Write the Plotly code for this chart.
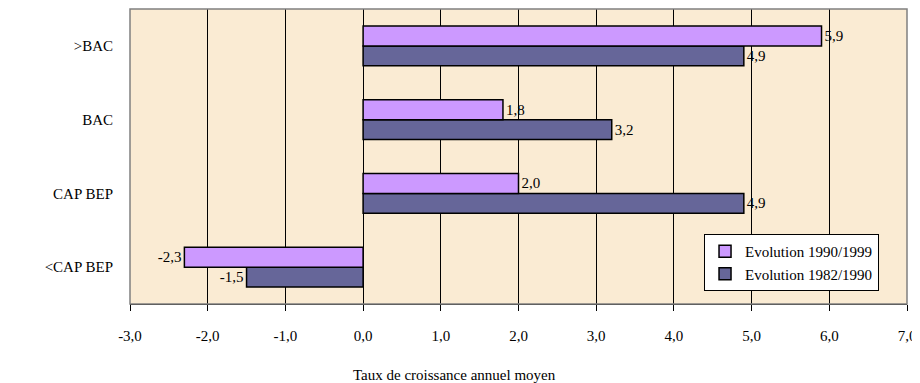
import plotly.graph_objects as go

# Données
categories = ["<CAP BEP", "CAP BEP", "BAC", ">BAC"]
evol_1982_1990 = [-1.5, 4.9, 3.2, 4.9]
evol_1990_1999 = [-2.3, 2.0, 1.8, 5.9]
x_ticks = [-3, -2, -1, 0, 1, 2, 3, 4, 5, 6, 7]


def fr(v):
    # format français avec tiret simple
    return f"{v:.1f}".replace(".", ",")


x_ticktext = [fr(v) for v in x_ticks]

police = "Liberation Serif, Times New Roman, serif"
taille = 15

fig = go.Figure()

# la première trace est dessinée en bas de chaque groupe
fig.add_trace(go.Bar(
    y=categories, x=evol_1982_1990, orientation="h",
    name="Evolution 1982/1990",
    marker=dict(color="#666699", line=dict(color="black", width=1.5)),
    text=[fr(v) for v in evol_1982_1990], textposition="outside",
    textfont=dict(family=police, size=taille, color="black"),
    cliponaxis=False,
))
fig.add_trace(go.Bar(
    y=categories, x=evol_1990_1999, orientation="h",
    name="Evolution 1990/1999",
    marker=dict(color="#CC99FF", line=dict(color="black", width=1.5)),
    text=[fr(v) for v in evol_1990_1999], textposition="outside",
    textfont=dict(family=police, size=taille, color="black"),
    cliponaxis=False,
))

# la page ajoute une marge de 8 px : la figure fait donc 912 x 375
fig.update_layout(
    width=912, height=375,
    barmode="group", bargap=0.46, bargroupgap=0,
    paper_bgcolor="white", plot_bgcolor="#FAEBD3",
    font=dict(family=police, size=taille, color="black"),
    margin=dict(l=122, r=13, t=1, b=79),
    showlegend=True,
    legend=dict(
        traceorder="reversed",
        x=0.964, xanchor="right", y=0.044, yanchor="bottom",
        bgcolor="white", bordercolor="black", borderwidth=1,
        font=dict(family=police, size=taille),
    ),
    xaxis=dict(
        range=[-3, 7], tickvals=x_ticks, ticktext=x_ticktext,
        showgrid=True, gridcolor="black", gridwidth=1,
        zeroline=True, zerolinecolor="black", zerolinewidth=1,
        showline=True, linecolor="black", linewidth=1,
        ticks="outside", ticklen=6, tickcolor="black",
        ticklabelstandoff=12, automargin=False, ticklabeloverflow="allow",
    ),
    yaxis=dict(
        categoryorder="array", categoryarray=categories,
        showgrid=False, zeroline=False, ticks="",
        ticklabelstandoff=16, automargin=False,
    ),
    # petites graduations de l'axe vertical placé en 0
    yaxis2=dict(
        overlaying="y", anchor="free", position=0.3,
        range=[-0.5, 3.5], tickvals=[-0.5, 0.5, 1.5, 2.5, 3.5],
        ticks="outside", ticklen=6, tickcolor="black",
        showticklabels=False, showgrid=False, zeroline=False, showline=False,
    ),
    annotations=[dict(
        text="Taux de croissance annuel moyen", xref="paper", yref="paper",
        x=0.418, y=-0.24, xanchor="center", yanchor="middle", showarrow=False,
        font=dict(family=police, size=taille),
    )],
    shapes=[dict(type="rect", xref="paper", yref="paper", x0=0, x1=1, y0=0, y1=1,
                 line=dict(color="#808080", width=1.5), layer="above")],
)

fig.write_html("out.html")
